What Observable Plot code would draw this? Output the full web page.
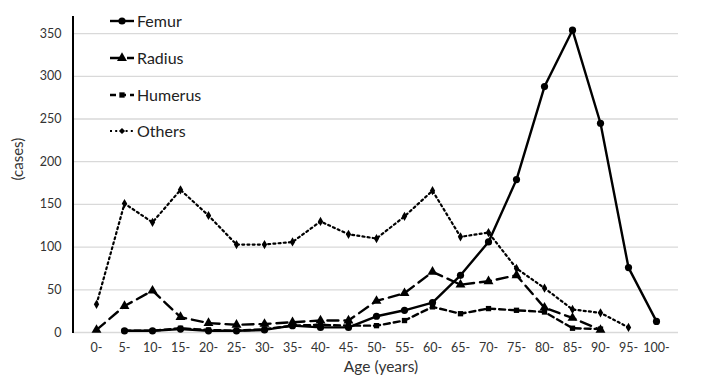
<!DOCTYPE html>
<html><head><meta charset="utf-8">
<script src="https://cdn.jsdelivr.net/npm/d3@7"></script>
<script src="https://cdn.jsdelivr.net/npm/@observablehq/plot@0.6"></script>
<style>
html,body{margin:0;padding:0;background:#fff;}
#chart{position:relative;width:702px;height:385px;}
</style>
</head><body><div id="chart"></div>
<script>
const ages = ["0-","5-","10-","15-","20-","25-","30-","35-","40-","45-","50-","55-","60-","65-","70-","75-","80-","85-","90-","95-","100-"];
const femur   = [null,2,2,4,2,2,3,8,6,6,19,26,35,67,106,179,288,354,245,76,13];
const radius  = [3,31,49,18,11,9,10,12,14,14,37,46,71,56,60,67,29,17,3,null,null];
const humerus = [null,2,2,5,3,2,4,8,9,8,8,14,30,22,28,26,24,5,4,null,null];
const others  = [33,151,129,167,137,103,103,106,130,115,110,136,166,112,117,75,52,27,23,6,null];
const yTicks = [0,50,100,150,200,250,300,350];
const seriesNames = ["Femur","Radius","Humerus","Others"];

const styles = {
  Femur:   {dash: null,    width: 2.4, symbol: "circle",   r: 3.6},
  Radius:  {dash: "11,6",  width: 2.4, symbol: "triangle", r: 3.7},
  Humerus: {dash: "6,4",   width: 2.4, symbol: "square",   r: 3.0},
  Others:  {dash: "2,3.2", width: 2.2, symbol: "diamond",  r: 2.8}
};
const raw = {Femur: femur, Radius: radius, Humerus: humerus, Others: others};
const rows = [];
for (const s of seriesNames) raw[s].forEach((v,i) => { if (v != null) rows.push({series: s, age: ages[i], value: v}); });

const font = "Lato, 'Open Sans', sans-serif";
const marks = [
  Plot.gridY(yTicks, {stroke: "#d9d9d9", strokeOpacity: 1, strokeWidth: 1.3}),
  Plot.ruleY([0], {stroke: "#000", strokeWidth: 2, x1: "0-", x2: "100-", insetRight: -24, insetLeft: -14.4}),
  Plot.axisY(yTicks, {tickSize: 0, tickPadding: 12, label: null, fill: "#333", fontSize: 12.5}),
  Plot.axisX(ages, {tickSize: 0, tickPadding: 11, label: null, fill: "#333", fontSize: 12.5}),
  Plot.text(["(cases)"], {frameAnchor: "left", rotate: -90, dx: -55, dy: 6, fontSize: 15, fill: "#333"}),
  Plot.text(["Age (years)"], {frameAnchor: "bottom", dy: 39, dx: 5, fontSize: 15.5, fill: "#333"})
];
for (const s of seriesNames) {
  const st = styles[s];
  const d = rows.filter(r => r.series === s);
  marks.push(Plot.line(d, {x: "age", y: "value", stroke: "#000", strokeWidth: st.width, strokeDasharray: st.dash, strokeLinejoin: "round"}));
}
for (const s of seriesNames) {
  const st = styles[s];
  const d = rows.filter(r => r.series === s);
  marks.push(Plot.dot(d, {x: "age", y: "value", symbol: () => st.symbol, r: st.r, fill: "#000", stroke: "none"}));
}

const chart = Plot.plot({
  width: 702, height: 385,
  marginLeft: 73, marginRight: 24, marginTop: 16, marginBottom: 53,
  style: {fontFamily: font, background: "#fff"},
  x: {type: "point", domain: ages, padding: 0.5},
  y: {domain: [0, 370], axis: null},
  symbol: {type: "identity"},
  marks
});
document.getElementById("chart").appendChild(chart);

// y axis line and legend
const svg = d3.select(chart);
svg.append("line").attr("x1", 73).attr("x2", 73).attr("y1", 16).attr("y2", 333).attr("stroke", "#000").attr("stroke-width", 2);
const legendY = [21, 58, 95, 131];
const g = svg.append("g").attr("font-family", font).attr("text-anchor", "start");
seriesNames.forEach((s, i) => {
  const st = styles[s];
  const y = legendY[i];
  g.append("line").attr("x1", 110).attr("x2", 134).attr("y1", y).attr("y2", y)
    .attr("stroke", "#000").attr("stroke-width", st.width).attr("stroke-dasharray", st.dash);
  const sym = {circle: d3.symbolCircle, triangle: d3.symbolTriangle, square: d3.symbolSquare, diamond: d3.symbolDiamond2}[st.symbol];
  g.append("path").attr("d", d3.symbol(sym, Math.PI * st.r * st.r)()).attr("transform", `translate(122,${y})`).attr("fill", "#000");
  g.append("text").attr("x", 137).attr("y", y).attr("dy", "0.35em").attr("font-size", 16).attr("fill", "#222").text(s);
});
</script>
</body></html>
